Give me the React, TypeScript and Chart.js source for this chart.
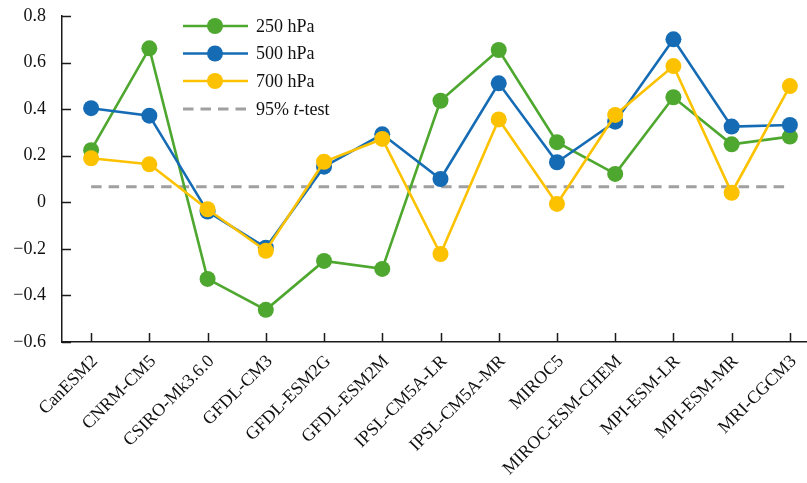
import React, { useEffect, useRef } from 'react';
import { Chart, registerables } from 'chart.js';

Chart.register(...registerables);

const MODELS = [
  'CanESM2', 'CNRM-CM5', 'CSIRO-Mk3.6.0', 'GFDL-CM3', 'GFDL-ESM2G', 'GFDL-ESM2M',
  'IPSL-CM5A-LR', 'IPSL-CM5A-MR', 'MIROC5', 'MIROC-ESM-CHEM', 'MPI-ESM-LR', 'MPI-ESM-MR', 'MRI-CGCM3',
];
const HPA250 = [0.224, 0.661, -0.329, -0.462, -0.252, -0.286, 0.436, 0.654, 0.258, 0.122, 0.451, 0.249, 0.282];
const HPA500 = [0.404, 0.372, -0.040, -0.195, 0.153, 0.292, 0.100, 0.511, 0.172, 0.346, 0.700, 0.325, 0.332];
const HPA700 = [0.189, 0.163, -0.030, -0.208, 0.174, 0.272, -0.222, 0.356, -0.007, 0.375, 0.585, 0.041, 0.499];
const T_TEST_LEVEL = 0.067;
const T_TEST = MODELS.map(() => T_TEST_LEVEL);
const Y_MIN = -0.6;
const Y_MAX = 0.8;
const Y_STEP = 0.2;

const GREEN = '#4ea72e';
const BLUE = '#156cb5';
const YELLOW = '#fcc200';
const GREY = '#a0a0a0';
const AXIS = '#1a1a1a';
const FONT = '"Liberation Serif", "Times New Roman", serif';

const inwardTicks = {
  id: 'inwardTicks',
  afterDatasetsDraw(chart: any) {
    const ctx = chart.ctx;
    const x = chart.scales.x;
    const y = chart.scales.y;
    const area = chart.chartArea;
    ctx.save();
    ctx.strokeStyle = AXIS;
    ctx.lineWidth = 1.5;
    ctx.beginPath();
    y.ticks.forEach((t: any) => {
      const py = Math.round(y.getPixelForValue(t.value)) + 0.5;
      ctx.moveTo(area.left, py);
      ctx.lineTo(area.left + 9, py);
    });
    MODELS.forEach((_, i) => {
      const px = Math.round(x.getPixelForValue(i)) + 0.5;
      ctx.moveTo(px, area.bottom);
      ctx.lineTo(px, area.bottom - 9);
    });
    ctx.stroke();
    ctx.restore();
  },
};

const customLegend = {
  id: 'customLegend',
  afterDraw(chart: any) {
    const ctx = chart.ctx;
    const x0 = 183;
    const x1 = 248;
    const xm = 215;
    const xt = 256;
    const ys = [26, 53.5, 81, 109];
    ctx.save();
    const ds = chart.data.datasets;
    const items = [ds[0], ds[1], ds[2], ds[3]];
    items.forEach((d: any, i: number) => {
      const yy = ys[i];
      ctx.strokeStyle = d.borderColor;
      ctx.lineWidth = d.borderWidth;
      if (d.borderDash && d.borderDash.length) ctx.setLineDash([10.5, 7]);
      else ctx.setLineDash([]);
      ctx.beginPath();
      ctx.moveTo(x0, yy);
      ctx.lineTo(x1, yy);
      ctx.stroke();
      ctx.setLineDash([]);
      if (d.pointRadius > 0) {
        ctx.fillStyle = d.pointBackgroundColor;
        ctx.beginPath();
        ctx.arc(xm, yy, 8, 0, Math.PI * 2);
        ctx.fill();
      }
      ctx.fillStyle = '#111';
      ctx.textBaseline = 'middle';
      ctx.textAlign = 'left';
      if (i < 3) {
        ctx.font = `18px ${FONT}`;
        ctx.fillText(d.label, xt, yy + 1);
      } else {
        const parts = [
          { t: '95% ', f: `18px ${FONT}` },
          { t: 't', f: `italic 18px ${FONT}` },
          { t: '-test', f: `18px ${FONT}` },
        ];
        let cx = xt;
        parts.forEach((p) => {
          ctx.font = p.f;
          ctx.fillText(p.t, cx, yy + 1);
          cx += ctx.measureText(p.t).width;
        });
      }
    });
    ctx.restore();
  },
};

export default function App() {
  const ref = useRef<HTMLCanvasElement | null>(null);
  useEffect(() => {
    if (!ref.current) return;
    const line = (label: string, data: number[], color: string, order: number) => ({
      label,
      data,
      borderColor: color,
      backgroundColor: color,
      pointBackgroundColor: color,
      pointBorderColor: color,
      pointBorderWidth: 0,
      pointRadius: 8,
      borderWidth: 2.6,
      tension: 0,
      order,
    });
    const chart = new Chart(ref.current, {
      type: 'line',
      data: {
        labels: MODELS,
        datasets: [
          line('250 hPa', HPA250, GREEN, 3),
          line('500 hPa', HPA500, BLUE, 2),
          line('700 hPa', HPA700, YELLOW, 1),
          {
            label: '95% t-test',
            data: T_TEST,
            borderColor: GREY,
            backgroundColor: GREY,
            borderWidth: 3,
            borderDash: [10.5, 7],
            pointRadius: 0,
            pointBackgroundColor: GREY,
            order: 4,
          } as any,
        ],
      },
      options: {
        animation: false,
        responsive: false,
        devicePixelRatio: 1,
        layout: { padding: { top: 16, right: 11, left: 0, bottom: 0 } },
        plugins: { legend: { display: false }, tooltip: { enabled: false } },
        scales: {
          x: {
            type: 'category',
            offset: true,
            grid: { display: true, drawOnChartArea: false, drawTicks: false, offset: false },
            border: { display: true, color: AXIS, width: 1.5 },
            ticks: {
              autoSkip: false,
              maxRotation: 45,
              minRotation: 45,
              padding: 9,
              labelOffset: 4,
              color: '#111',
              font: { family: FONT, size: 18 },
            },
            afterFit(scale: any) {
              scale.height = 141;
              scale.paddingLeft = 0;
              scale.paddingRight = 0;
            },
          },
          y: {
            min: Y_MIN,
            max: Y_MAX,
            grid: { display: true, drawOnChartArea: false, drawTicks: false },
            border: { display: true, color: AXIS, width: 1.5 },
            ticks: {
              stepSize: Y_STEP,
              padding: 16,
              color: '#111',
              font: { family: FONT, size: 18 },
              callback: (v: any) => {
                const n = Number(v);
                if (Math.abs(n) < 1e-9) return '0';
                return n.toFixed(1).replace('-', '\u2212');
              },
            },
            afterFit(scale: any) {
              scale.width = 62;
              scale.paddingTop = 0;
              scale.paddingBottom = 0;
            },
          },
        },
      },
      plugins: [inwardTicks, customLegend],
    } as any);
    return () => chart.destroy();
  }, []);
  return (
    <div style={{ position: 'absolute', left: 0, top: 0, width: 807, height: 483, overflow: 'hidden', background: '#fff' }}>
      <canvas ref={ref} width={830} height={483} style={{ width: 830, height: 483, display: 'block' }} />
    </div>
  );
}
